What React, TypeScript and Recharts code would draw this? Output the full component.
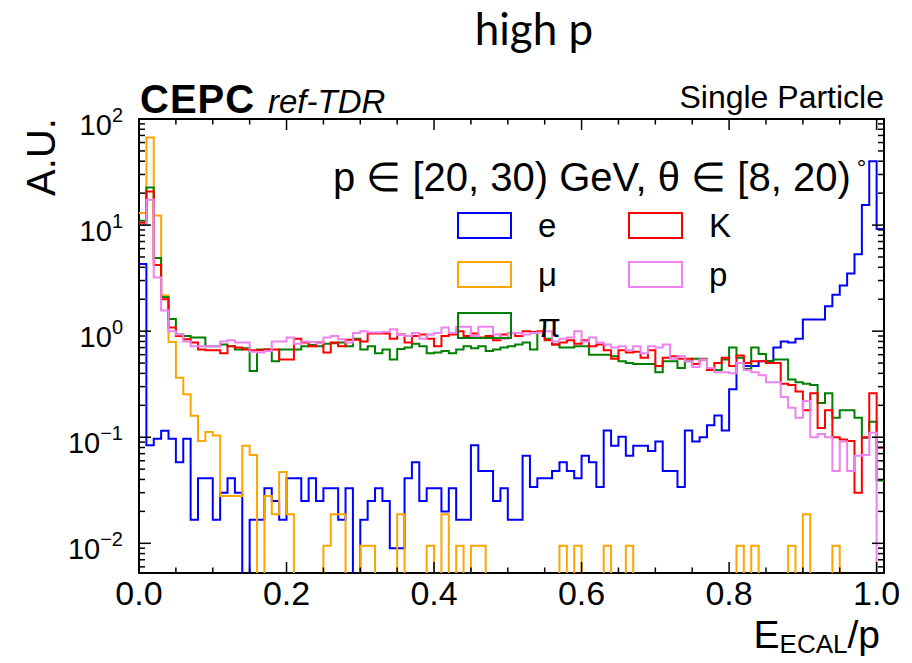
import React from 'react';
import { ComposedChart, Line, XAxis, YAxis, ReferenceArea } from 'recharts';

// canvas + frame (pixels)
const W = 912;
const H = 663;
const PLOT_L = 139;
const PLOT_T = 119;
const PLOT_R = 884;
const PLOT_B = 573;
const PLOT_W = PLOT_R - PLOT_L;
const PLOT_H = PLOT_B - PLOT_T;

const X_MAX = 1.01;
const Y_MIN = 0.00525;
const Y_MAX = 100;
const EMPTY = 1e-4; // empty bins fall below the frame, like ROOT

const FONT = '"Liberation Sans", Arial, Helvetica, sans-serif';

// 101 bins of width 0.01 starting at 0 (last one is 1.00-1.01)
const binLow = Array.from({ length: 102 }, (_, i) => i / 100);

const eHist = [
  4.3, 0.084, 0.097, 0.115, 0.097, 0.058, 0.097, 0.0167, 0.041, 0.041,
  0.0167, 0.03, 0.041, 0.03, 0, 0.0167, 0.0167, 0.033, 0.025, 0.0167,
  0.041, 0.041, 0.025, 0.041, 0.025, 0.033, 0.033, 0.0167, 0.033, 0,
  0.0167, 0.025, 0.033, 0.025, 0.009, 0.009, 0.041, 0.058, 0.025, 0.033,
  0.033, 0.02, 0.033, 0.0167, 0.0167, 0.084, 0.048, 0.048, 0.025, 0.033,
  0.0167, 0.0167, 0.067, 0.034, 0.041, 0.041, 0.048, 0.058, 0.048, 0.041,
  0.067, 0.058, 0.034, 0.116, 0.083, 0.101, 0.067, 0.083, 0.083, 0.074,
  0.091, 0.048, 0.048, 0.034, 0.116, 0.091, 0.1, 0.13, 0.16, 0.116,
  0.283, 0.5, 0.47, 0.47, 0.52, 0.52, 0.7, 0.8, 0.78, 0.85,
  1.29, 1.29, 1.29, 1.72, 2.2, 2.7, 3.5, 5.3, 15.5, 40,
  9.2,
];

const muHist = [
  13, 66.8, 12.3, 2.17, 0.79, 0.364, 0.254, 0.159, 0.092, 0.112,
  0.104, 0.028, 0.028, 0.028, 0.083, 0.068, 0, 0.028, 0.0188, 0.047,
  0.0188, 0, 0, 0, 0, 0.0095, 0.0188, 0.0188, 0, 0,
  0.0095, 0.0095, 0, 0, 0, 0.0188, 0, 0, 0, 0.0095,
  0, 0.0188, 0, 0.0095, 0, 0.0095, 0.0095, 0, 0, 0,
  0, 0, 0, 0, 0, 0, 0, 0.0095, 0, 0.0095,
  0, 0, 0, 0.0095, 0, 0, 0.0095, 0, 0, 0,
  0, 0, 0, 0, 0, 0, 0, 0, 0, 0,
  0, 0.0095, 0, 0.0095, 0, 0, 0, 0, 0.0095, 0,
  0.0188, 0, 0, 0, 0.0095, 0, 0, 0, 0, 0,
  0,
];

const piHist = [
  11, 22.6, 4.9, 2.1, 1.3, 0.93, 0.9, 0.87, 0.87, 0.72,
  0.72, 0.75, 0.72, 0.67, 0.69, 0.42, 0.67, 0.67, 0.52, 0.67,
  0.67, 0.67, 0.72, 0.74, 0.72, 0.76, 0.77, 0.78, 0.72, 0.85,
  0.67, 0.72, 0.62, 0.67, 0.54, 0.68, 0.7, 0.76, 0.72, 0.62,
  0.63, 0.65, 0.62, 0.67, 0.72, 0.69, 0.72, 0.65, 0.67, 0.7,
  0.72, 0.75, 0.78, 0.67, 0.98, 0.85, 0.75, 0.7, 0.7, 0.72,
  0.72, 0.6, 0.6, 0.6, 0.58, 0.52, 0.5, 0.49, 0.49, 0.49,
  0.41, 0.52, 0.52, 0.45, 0.52, 0.55, 0.55, 0.45, 0.43, 0.54,
  0.7, 0.56, 0.44, 0.7, 0.61, 0.52, 0.54, 0.54, 0.35, 0.33,
  0.32, 0.31, 0.21, 0.26, 0.153, 0.18, 0.18, 0.153, 0.099, 0.14,
  0.039,
];

const kHist = [
  10.5, 20.7, 4.2, 2.0, 1.08, 0.9, 0.84, 0.78, 0.67, 0.66,
  0.66, 0.62, 0.72, 0.7, 0.67, 0.66, 0.66, 0.67, 0.67, 0.54,
  0.54, 0.85, 0.78, 0.72, 0.78, 0.63, 0.78, 0.72, 0.83, 0.83,
  0.8, 0.95, 0.95, 0.95, 0.85, 0.93, 0.78, 0.9, 0.93, 0.85,
  0.72, 0.9, 0.93, 1.0, 0.9, 0.95, 0.87, 0.9, 0.82, 0.93,
  0.96, 0.9, 1.0, 0.98, 1.0, 0.82, 0.75, 0.78, 0.82, 0.76,
  0.82, 0.72, 0.75, 0.66, 0.55, 0.66, 0.63, 0.64, 0.56, 0.66,
  0.47, 0.56, 0.58, 0.55, 0.55, 0.49, 0.54, 0.43, 0.5, 0.56,
  0.47, 0.59, 0.5, 0.52, 0.52, 0.5, 0.5, 0.32, 0.31, 0.27,
  0.18, 0.26, 0.122, 0.18, 0.1, 0.095, 0.092, 0.03, 0.1, 0.26,
  0.08,
];

const pHist = [
  10, 17.3, 3.2, 1.57, 1.0, 0.93, 0.8, 0.72, 0.72, 0.72,
  0.72, 0.8, 0.82, 0.78, 0.78, 0.64, 0.63, 0.65, 0.8, 0.8,
  0.87, 0.76, 0.8, 0.79, 0.77, 0.87, 0.9, 0.84, 0.78, 0.96,
  1.0, 0.97, 0.97, 0.98, 1.04, 0.92, 0.9, 0.96, 0.85, 0.93,
  0.96, 1.08, 0.96, 1.1, 1.1, 0.9, 1.1, 1.1, 0.93, 0.85,
  0.96, 0.96, 0.93, 0.96, 0.97, 1.0, 0.8, 0.85, 0.87, 1.0,
  0.8, 0.87, 0.78, 0.75, 0.7, 0.72, 0.66, 0.72, 0.62, 0.72,
  0.7, 0.75, 0.55, 0.58, 0.52, 0.46, 0.54, 0.45, 0.41, 0.41,
  0.4, 0.5, 0.43, 0.41, 0.385, 0.33, 0.33, 0.24, 0.19, 0.153,
  0.22, 0.1, 0.107, 0.1, 0.048, 0.091, 0.048, 0.067, 0.068, 0.11,
  0,
];

const series = [
  { key: 'e', label: 'e', color: '#0000ff', values: eHist },
  { key: 'mu', label: 'μ', color: '#ffa500', values: muHist },
  { key: 'pi', label: 'π', color: '#008000', values: piHist },
  { key: 'K', label: 'K', color: '#ff0000', values: kHist },
  { key: 'p', label: 'p', color: '#ee82ee', values: pHist },
];

const xTicks = [
  0, 0.05, 0.1, 0.15, 0.2, 0.25, 0.3, 0.35, 0.4, 0.45, 0.5,
  0.55, 0.6, 0.65, 0.7, 0.75, 0.8, 0.85, 0.9, 0.95, 1.0,
];
const yTicks = [
  0.006, 0.007, 0.008, 0.009,
  0.01, 0.02, 0.03, 0.04, 0.05, 0.06, 0.07, 0.08, 0.09,
  0.1, 0.2, 0.3, 0.4, 0.5, 0.6, 0.7, 0.8, 0.9,
  1, 2, 3, 4, 5, 6, 7, 8, 9,
  10, 20, 30, 40, 50, 60, 70, 80, 90, 100,
];

// step outline: one point per bin low edge, last edge repeats the last bin
const data = binLow.map((x, i) => {
  const row: Record<string, number> = { x };
  series.forEach((s) => {
    const v = s.values[Math.min(i, s.values.length - 1)];
    row[s.key] = v > 0 ? v : EMPTY;
  });
  return row;
});

const XTick = (props: any) => {
  const { x, y, payload } = props;
  const v = payload.value;
  const major = Math.abs(v * 5 - Math.round(v * 5)) < 1e-6;
  const len = major ? 11 : 5.5;
  return (
    <g>
      <line x1={x} x2={x} y1={y} y2={y - len} stroke="#000" strokeWidth={1.5} />
      <line x1={x} x2={x} y1={y - PLOT_H} y2={y - PLOT_H + len} stroke="#000" strokeWidth={1.5} />
      {major && (
        <text x={x} y={y + 32} textAnchor="middle" fontSize={34} fontFamily={FONT} fill="#000">
          {v.toFixed(1)}
        </text>
      )}
    </g>
  );
};

const YTick = (props: any) => {
  const { x, y, payload } = props;
  const lg = Math.log10(payload.value);
  const exp = Math.round(lg);
  const major = Math.abs(lg - exp) < 1e-6;
  const len = major ? 12 : 6;
  return (
    <g>
      <line x1={x} x2={x + len} y1={y} y2={y} stroke="#000" strokeWidth={1.5} />
      <line x1={x + PLOT_W} x2={x + PLOT_W - len} y1={y} y2={y} stroke="#000" strokeWidth={1.5} />
      {major && (
        <text x={x - 16} y={y + 16} textAnchor="end" fontSize={29} fontFamily={FONT} fill="#000">
          10
          <tspan dy={-13} fontSize={20}>
            {exp < 0 ? `−${-exp}` : `${exp}`}
          </tspan>
        </text>
      )}
    </g>
  );
};

const Overlay = () => (
  <svg
    width={W}
    height={H}
    style={{ position: 'absolute', left: 0, top: 0, pointerEvents: 'none' }}
  >
    <text x={534} y={45} textAnchor="middle" fontSize={44} fontFamily="Lato, 'Open Sans', sans-serif" fill="#000">
      high p
    </text>
    <text x={140} y={113} fontSize={40} fontWeight="bold" letterSpacing={1} fontFamily={FONT} fill="#000">
      CEPC
    </text>
    <text x={268} y={113} fontSize={33} fontStyle="italic" fontFamily={FONT} fill="#000">
      ref-TDR
    </text>
    <text x={884} y={108} textAnchor="end" fontSize={32} fontFamily={FONT} fill="#000">
      Single Particle
    </text>
    <text
      x={0}
      y={0}
      transform="translate(55,157) rotate(-90)"
      textAnchor="middle"
      fontSize={40}
      fontFamily={FONT}
      fill="#000"
    >
      A.U.
    </text>
    <text x={333} y={191} fontSize={40} fontFamily={FONT} fill="#000">
      p ∈ [20, 30) GeV, θ ∈ [8, 20)
      <tspan dx={6} dy={-15} fontSize={24}>°</tspan>
    </text>

    {/* legend */}
    {[
      { s: series[0], x: 458, y: 213 },
      { s: series[1], x: 458, y: 262 },
      { s: series[2], x: 458, y: 313 },
      { s: series[3], x: 629, y: 213 },
      { s: series[4], x: 629, y: 262 },
    ].map(({ s, x, y }) => (
      <g key={s.key}>
        <rect x={x} y={y} width={53} height={25} fill="none" stroke={s.color} strokeWidth={2} />
        <text x={x + 80} y={y + 24} fontSize={33} fontFamily={FONT} fill="#000">
          {s.label}
        </text>
      </g>
    ))}

    {/* x title */}
    <text x={880} y={648} textAnchor="end" fontSize={39} fontFamily={FONT} fill="#000">
      E
      <tspan fontSize={26} dy={5}>ECAL</tspan>
      <tspan dy={-5}>/p</tspan>
    </text>
  </svg>
);

export default function App() {
  return (
    <div style={{ position: 'absolute', left: 0, top: 0, width: W, height: H, background: '#fff' }}>
      <ComposedChart
        width={W}
        height={H}
        data={data}
        margin={{ top: PLOT_T, right: W - PLOT_R, bottom: H - PLOT_B - 40, left: PLOT_L - 60 }}
      >
        <XAxis
          xAxisId="b"
          dataKey="x"
          type="number"
          domain={[0, X_MAX]}
          allowDataOverflow
          ticks={xTicks}
          interval={0}
          height={40}
          tickSize={0}
          tickMargin={0}
          axisLine={false}
          tickLine={false}
          tick={(p: any) => <XTick {...p} />}
        />
        <YAxis
          yAxisId="l"
          type="number"
          scale="log"
          domain={[Y_MIN, Y_MAX]}
          allowDataOverflow
          ticks={yTicks}
          interval={0}
          width={60}
          tickSize={0}
          tickMargin={0}
          axisLine={false}
          tickLine={false}
          tick={(p: any) => <YTick {...p} />}
        />
        {series.map((s) => (
          <Line
            key={s.key}
            xAxisId="b"
            yAxisId="l"
            dataKey={s.key}
            type="stepAfter"
            stroke={s.color}
            strokeWidth={2}
            dot={false}
            activeDot={false}
            isAnimationActive={false}
          />
        ))}
        <ReferenceArea
          xAxisId="b"
          yAxisId="l"
          x1={0}
          x2={X_MAX}
          y1={Y_MIN}
          y2={Y_MAX}
          fill="none"
          fillOpacity={0}
          stroke="#000"
          strokeWidth={2}
          ifOverflow="visible"
        />
      </ComposedChart>
      <Overlay />
    </div>
  );
}
